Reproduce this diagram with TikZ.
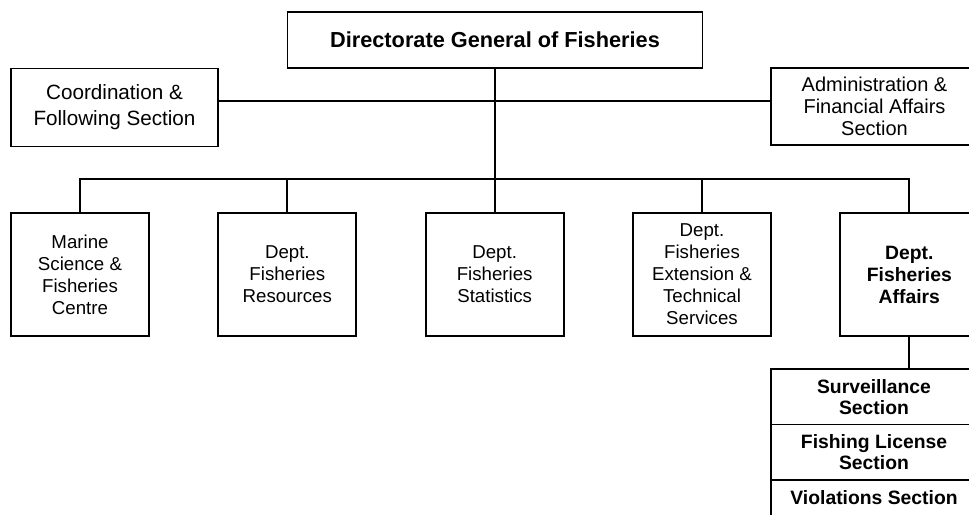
\documentclass[tikz,border=0pt]{standalone}
\usepackage{fontspec}
\setmainfont{Liberation Sans}
\usepackage{tikz}
\usetikzlibrary{positioning,calc}
\tikzset{unit/.style={draw, rectangle, align=center, inner sep=2pt, outer sep=0pt},
         dept/.style={unit, minimum width=103.5pt, minimum height=92.25pt,
           font=\fontsize{14}{16.5}\selectfont},
         sect/.style={unit, minimum width=154.5pt, minimum height=41.6pt,
           font=\bfseries\fontsize{14.5}{15.5}\selectfont}}

\begin{document}
\begin{tikzpicture}[x=0.75pt, y=-0.75pt, line width=1.4pt]
  \useasboundingbox (0,0) rectangle (969,514);
  \clip (0,0) rectangle (969,514);
  \node[unit, minimum width=311.25pt, minimum height=42pt,
    font=\bfseries\fontsize{16.3}{19}\selectfont] (dgf) at (495,40)
    {Directorate General of Fisheries};
  \node[unit, minimum width=155.25pt, minimum height=58.5pt,
    font=\fontsize{15.5}{19.5}\selectfont] (cfs) at (114.5,107.5)
    {Coordination \&\\Following Section};
  \node[unit, minimum width=155.25pt, minimum height=57.75pt,
    font=\fontsize{15}{16.5}\selectfont] (afa) at (874.5,106.5)
    {Administration \&\\Financial Affairs\\Section};
  % departments
  \node[dept] (msc) at (80,274.5) {Marine\\Science \&\\Fisheries\\Centre};
  \node[dept, right=52pt of msc] (dfr) {Dept.\\Fisheries\\Resources};
  \node[dept, right=52pt of dfr] (dfs) {Dept.\\Fisheries\\Statistics};
  \node[dept, right=52pt of dfs] (dfe) {Dept.\\Fisheries\\Extension \&\\Technical\\Services};
  \node[dept, right=52pt of dfe, font=\bfseries\fontsize{14.5}{16.5}\selectfont] (dfa)
    {Dept.\\Fisheries\\Affairs};
  % sections of affairs
  \node[sect] (sur) at (874,396.75) {Surveillance\\Section};
  \node[sect, below=0pt of sur] (fls) {Fishing License\\Section};
  \node[sect, below=0pt of fls] (vio) {Violations Section\\\vphantom{S}};
  \coordinate (side) at (495,101);
  \coordinate (bus) at ([yshift=25.5pt]dfs.north);
  \draw (dgf.south) -- (dgf.south |- dfs.north);
  \draw (cfs.east |- side) -- (afa.west |- side);
  \draw (msc.north) |- (bus) -| (dfa.north);
  \draw (dfr.north) -- (dfr.north |- bus) (dfe.north) -- (dfe.north |- bus);
  \draw (dfa.south) -- (dfa.south |- sur.north);
\end{tikzpicture}
\end{document}
